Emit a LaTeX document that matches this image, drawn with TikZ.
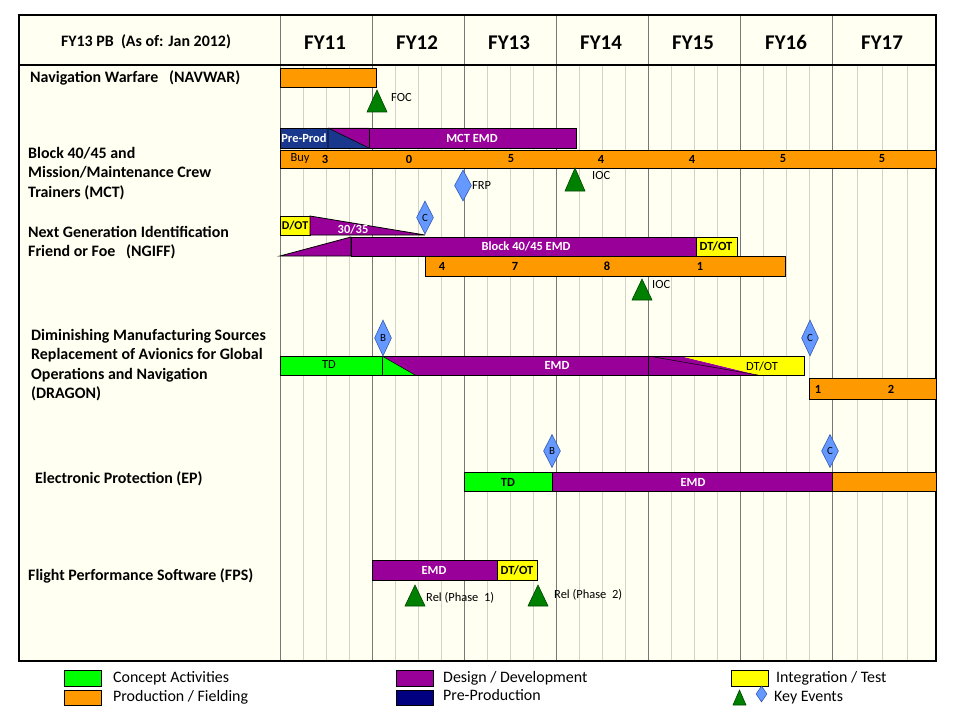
\documentclass[tikz,border=0pt]{standalone}
\usepackage{fontspec}
\setmainfont{Carlito}
\usetikzlibrary{shapes.geometric}
\definecolor{bg}{RGB}{255,255,242}
\definecolor{org}{RGB}{255,153,0}
\definecolor{pur}{RGB}{153,0,153}
\definecolor{nav}{RGB}{0,0,128}
\definecolor{navbar}{RGB}{25,55,140}
\definecolor{grn}{RGB}{0,255,0}
\definecolor{yel}{RGB}{255,255,0}
\definecolor{evg}{RGB}{0,128,0}
\definecolor{evgd}{RGB}{0,70,0}
\definecolor{evb}{RGB}{102,153,255}
\definecolor{evbd}{RGB}{50,90,180}
\definecolor{maj}{RGB}{120,120,120}
\definecolor{minr}{RGB}{210,210,200}
\tikzset{
  barbox/.style={draw=black, line width=0.8bp},
  lbl/.style={anchor=west, inner sep=0pt, align=left, font=\bfseries\fontsize{16}{19.5}\selectfont},
  hdr/.style={inner sep=0pt, font=\bfseries\fontsize{16}{18}\selectfont},
  fy/.style={anchor=base, inner sep=0pt, font=\bfseries\fontsize{21}{23}\selectfont},
  wtxt/.style={inner sep=0pt, text=white, font=\bfseries\fontsize{12.5}{13}\selectfont},
  btxt/.style={inner sep=0pt, text=black, font=\bfseries\fontsize{12.5}{13}\selectfont},
  ntxt/.style={inner sep=0pt, text=black, font=\fontsize{12.5}{13}\selectfont},
  evtxt/.style={anchor=west, inner sep=0pt, font=\fontsize{12.5}{13}\selectfont},
  keyd/.style={diamond, draw=evbd, fill=evb, line width=0.6bp, minimum width=17bp, minimum height=34bp, inner sep=0pt, font=\fontsize{11}{12}\selectfont},
  keytri/.style={draw=evgd, fill=evg, line width=0.6bp},
  legtxt/.style={anchor=west, inner sep=0pt, font=\fontsize{16}{18}\selectfont},
  legbox/.style={draw=black, line width=0.8bp}
}
\newcommand\ktri[3]{\draw[keytri] (#1-10,#3) -- (#1,#2) -- (#1+10,#3) -- cycle;}
\begin{document}
\begin{tikzpicture}[x=1bp,y=-1bp]
\useasboundingbox (0,0) rectangle (960,720);
\fill[white] (0,0) rectangle (960,720);
\fill[bg] (19,15) rectangle (936,661);
% minor grid
\foreach \s in {280,372,464,556,648,740}{
  \foreach \k in {23,46,69}{ \draw[minr, line width=0.6bp] (\s+\k,65) -- (\s+\k,661); }
}
\foreach \x in {857,882,907}{ \draw[minr, line width=0.6bp] (\x,65) -- (\x,661); }
% major grid
\foreach \x in {372,464,556,648,740,832}{ \draw[maj, line width=0.8bp] (\x,15) -- (\x,661); }
\draw[maj, line width=0.9bp] (280,15) -- (280,661);
\draw[black, line width=1.2bp] (19,65) -- (936,65);
\draw[black, line width=1.6bp] (19,15) rectangle (936,661);
% header
\node[hdr] (hd) at (146,42) {FY13 PB \ (As of: Jan 2012)};
\node[fy] (fy11) at (325,50) {FY11};
\node[fy] (fy12) at (417,50) {FY12};
\node[fy] (fy13) at (509,50) {FY13};
\node[fy] (fy14) at (601,50) {FY14};
\node[fy] (fy15) at (693,50) {FY15};
\node[fy] (fy16) at (786,50) {FY16};
\node[fy] (fy17) at (882,50) {FY17};
% row labels
\node[lbl] (r1) at (30,78) {Navigation Warfare \ \ (NAVWAR)};
\node[lbl] (r2) at (28,173.5) {Block 40/45 and\\Mission/Maintenance Crew\\Trainers (MCT)};
\node[lbl] (r3) at (28,242.5) {Next Generation Identification\\Friend or Foe \ \ (NGIFF)};
\node[lbl] (r4) at (31,365) {Diminishing Manufacturing Sources\\Replacement of Avionics for Global\\Operations and Navigation\\(DRAGON)};
\node[lbl] (r5) at (35,479) {Electronic Protection (EP)};
\node[lbl] (r6) at (28,576) {Flight Performance Software (FPS)};
% NAVWAR
\draw[barbox, fill=org] (280,68) rectangle (376,87);
\ktri{377}{90}{112}
\node[evtxt] (foc) at (391,98) {FOC};
% MCT
\fill[navbar] (280,128) rectangle (328,148);
\fill[pur] (328,128) -- (369,128) -- (369,148) -- cycle;
\fill[navbar] (328,128) -- (328,148) -- (369,148) -- cycle;
\draw[black, line width=0.6bp] (328,128) -- (328,148) (328,128) -- (369,148);
\draw[barbox] (280,128) rectangle (369,148);
\draw[barbox, fill=pur] (369,128) rectangle (576,148);
\node[wtxt] (pp) at (304,138) {Pre-Prod};
\node[wtxt] (mct) at (472,138) {MCT EMD};
\draw[barbox, fill=org] (280,150) rectangle (936,168);
\node[ntxt] (buy) at (300,159) {Buy};
\node[btxt] (b1) at (325,159) {3};
\node[btxt] (b2) at (409,159) {0};
\node[btxt] (b3) at (511,159) {5};
\node[btxt] (b4) at (601,159) {4};
\node[btxt] (b5) at (692,159) {4};
\node[btxt] (b6) at (783,159) {5};
\node[btxt] (b7) at (882,159) {5};
\node[keyd, minimum height=31bp] (frp) at (463,185.5) {};
\node[evtxt] (frpt) at (472,186) {FRP};
\ktri{575}{168}{191}
\node[evtxt] (ioc1) at (592,176) {IOC};
% NGIFF
\draw[barbox, fill=yel] (280,216) rectangle (310,235);
\node[btxt, font=\bfseries\fontsize{12}{13}\selectfont] (dot1) at (295,226) {D/OT};
\draw[barbox, fill=pur] (310,216) -- (425,235) -- (310,235) -- cycle;
\node[wtxt] (t3035) at (353,229) {30/35};
\draw[barbox, fill=pur] (280,256) -- (351,237) -- (351,256) -- cycle;
\draw[barbox, fill=pur] (351,237) rectangle (696,256);
\node[wtxt] (blk) at (526,246) {Block 40/45 EMD};
\draw[barbox, fill=yel] (696,237) rectangle (737,256);
\node[btxt] (dot2) at (716,246) {DT/OT};
\draw[barbox, fill=org] (425,256) rectangle (785,276);
\node[btxt] (n1) at (442,266) {4};
\node[btxt] (n2) at (515,266) {7};
\node[btxt] (n3) at (607,266) {8};
\node[btxt] (n4) at (700,266) {1};
\node[keyd, minimum height=33bp] (c1) at (425,217.5) {C};
\ktri{642}{279}{300}
\node[evtxt] (ioc2) at (652,285) {IOC};
% DRAGON
\draw[barbox, fill=grn] (280,356) rectangle (382,375);
\node[ntxt] (td1) at (329,365) {TD};
\fill[pur] (382,356) rectangle (648,375);
\fill[grn] (382,356) -- (382,375) -- (415,375) -- cycle;
\draw[black, line width=0.5bp] (382,356) -- (415,375);
\draw[barbox] (382,356) rectangle (648,375);
\node[wtxt] (emd1) at (557,365) {EMD};
\fill[pur] (648,356) -- (680,356) -- (758,375) -- (648,375) -- cycle;
\fill[yel] (680,356) -- (804,356) -- (804,375) -- (758,375) -- cycle;
\draw[black, line width=0.5bp] (648,356) -- (758,375);
\draw[barbox] (648,356) rectangle (804,375);
\node[ntxt] (dot3) at (762,366) {DT/OT};
\draw[barbox, fill=org] (809,378) rectangle (936,399);
\node[btxt] (d1) at (818,389) {1};
\node[btxt] (d2) at (891,389) {2};
\node[keyd, minimum height=36bp] (bd) at (383,338) {B};
\node[keyd, minimum height=36bp] (cd) at (810,338) {C};
% EP
\draw[barbox, fill=grn] (464,472) rectangle (552,491);
\node[btxt] (td2) at (508,482) {TD};
\draw[barbox, fill=pur] (552,472) rectangle (832,491);
\node[wtxt] (emd2) at (693,482) {EMD};
\draw[barbox, fill=org] (832,472) rectangle (936,491);
\node[keyd, minimum height=33bp] (be) at (552,451) {B};
\node[keyd, minimum height=33bp] (ce) at (830,451) {C};
% FPS
\draw[barbox, fill=pur] (372,560) rectangle (497,580);
\node[wtxt] (emd3) at (434,570) {EMD};
\draw[barbox, fill=yel] (497,560) rectangle (537,580);
\node[btxt] (dot4) at (517,570) {DT/OT};
\ktri{415}{585}{606}
\node[evtxt] (rel1) at (426,598) {Rel (Phase \ 1)};
\ktri{538}{585}{606}
\node[evtxt] (rel2) at (554,595) {Rel (Phase \ 2)};
% legend
\draw[legbox, fill=grn] (64,670) rectangle (101,686);
\node[legtxt] (lg1) at (113,678) {Concept Activities};
\draw[legbox, fill=org] (64,690) rectangle (101,705);
\node[legtxt] (lg2) at (113,697.5) {Production / Fielding};
\draw[legbox, fill=pur] (396,670) rectangle (433,686);
\node[legtxt] (lg3) at (443,678) {Design / Development};
\draw[legbox, fill=nav] (396,690) rectangle (433,705);
\node[legtxt] (lg4) at (443,695) {Pre-Production};
\draw[legbox, fill=yel] (731,670) rectangle (768,686);
\node[legtxt] (lg5) at (776,678) {Integration / Test};
\draw[keytri] (733,705) -- (739.5,690) -- (746,705) -- cycle;
\node[keyd, minimum width=11bp, minimum height=16bp] (lgd) at (761.5,694) {};
\node[legtxt] (lg6) at (774,697.5) {Key Events};
\end{tikzpicture}
\end{document}
